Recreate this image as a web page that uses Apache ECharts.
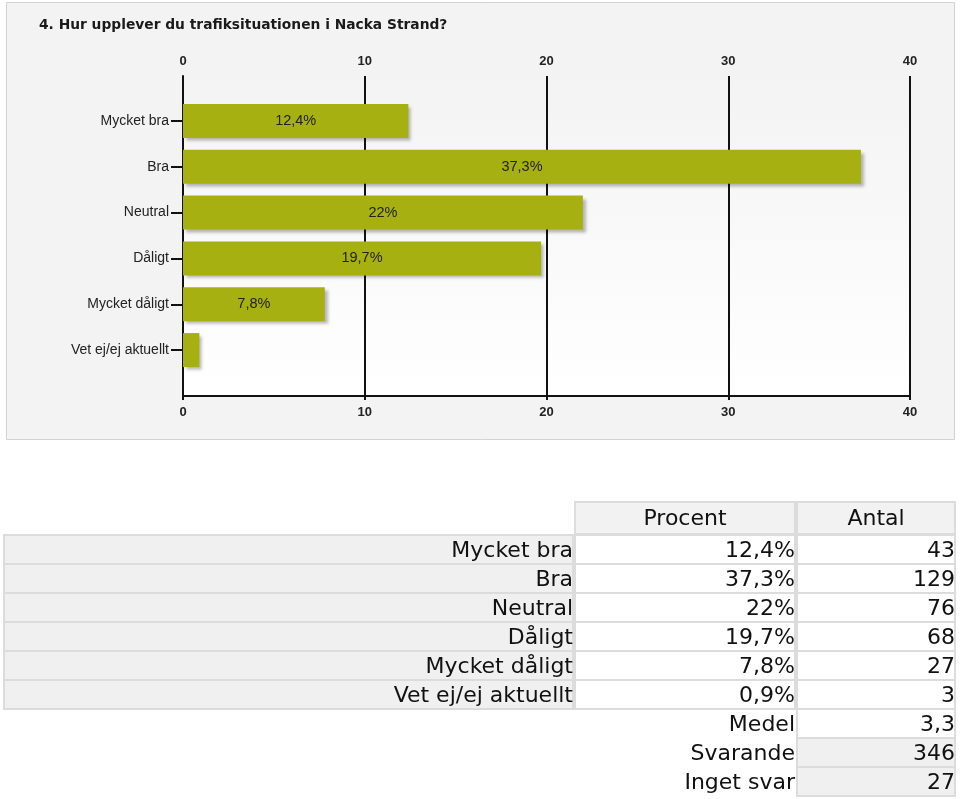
<!DOCTYPE html>
<html>
<head>
<meta charset="utf-8">
<script src="https://cdn.jsdelivr.net/npm/echarts@6/dist/echarts.min.js"></script>
<style>
html,body{margin:0;padding:0;background:#fff;}
#c{width:960px;height:799px;}
</style>
</head>
<body>
<div id="c"></div>
<script>
const title = '4. Hur upplever du trafiksituationen i Nacka Strand?';
const categories = ['Mycket bra', 'Bra', 'Neutral', 'Dåligt', 'Mycket dåligt', 'Vet ej/ej aktuellt'];
const percents = [12.4, 37.3, 22, 19.7, 7.8, 0.9];
const counts = [43, 129, 76, 68, 27, 3];
const xTicks = [0, 10, 20, 30, 40];
const headerLabels = ['Procent', 'Antal'];
const summaryLabels = ['Medel', 'Svarande', 'Inget svar'];
const summaryValues = ['3,3', '346', '27'];

const fmt = v => String(v).replace('.', ',');

const chart = echarts.init(document.getElementById('c'), null, {renderer: 'canvas'});

// ---- table graphics ----
const tableFont = '22px "DejaVu Sans"';
const g = [];
g.push({type: 'rect', z: -10, shape: {x: 6.5, y: 2.5, width: 948, height: 437},
  style: {fill: '#f3f3f3', stroke: '#d2d2d2', lineWidth: 1}});
const colL = [4, 575, 797];
const colR = [573, 795, 955];
const headTop = 502, headH = 32, rowTop = 535, rowH = 29;
const border = '#dcdcdc';
function cell(x1, x2, y, h, fill) {
  g.push({type: 'rect', shape: {x: x1, y: y, width: x2 - x1, height: h},
    style: {fill: fill, stroke: border, lineWidth: 2}});
}
function txt(text, x, y, align) {
  g.push({type: 'text', x: x, y: y, style: {text: text, font: tableFont, fill: '#111',
    textAlign: align, textVerticalAlign: 'middle'}});
}
for (let j = 0; j < 2; j++) {
  cell(colL[j + 1], colR[j + 1], headTop, headH, '#f2f2f2');
  txt(headerLabels[j], (colL[j + 1] + colR[j + 1]) / 2, headTop + headH / 2 + 1, 'center');
}
for (let i = 0; i < categories.length; i++) {
  const y = rowTop + i * rowH;
  cell(colL[0], colR[0], y, rowH, '#f0f0f0');
  cell(colL[1], colR[1], y, rowH, '#ffffff');
  cell(colL[2], colR[2], y, rowH, '#ffffff');
  txt(categories[i], colR[0], y + rowH / 2 + 2, 'right');
  txt(fmt(percents[i]) + '%', colR[1], y + rowH / 2 + 2, 'right');
  txt(String(counts[i]), colR[2], y + rowH / 2 + 2, 'right');
}
for (let k = 0; k < summaryLabels.length; k++) {
  const y = rowTop + (categories.length + k) * rowH;
  cell(colL[2], colR[2], y, rowH, k === 0 ? '#ffffff' : '#f0f0f0');
  txt(summaryLabels[k], colR[1], y + rowH / 2 + 2, 'right');
  txt(summaryValues[k], colR[2], y + rowH / 2 + 2, 'right');
}

const axisFont = {fontFamily: '"Liberation Sans", Arial, sans-serif', fontSize: 13, color: '#222'};

chart.setOption({
  animation: false,
  backgroundColor: '#ffffff',
  title: {
    text: title, left: 34, top: 13,
    textStyle: {fontFamily: '"DejaVu Sans", Verdana, sans-serif', fontWeight: 'bold', fontSize: 13.8, color: '#1a1a1a'}
  },
  grid: [
    {left: 183, right: 50, top: 76, bottom: 403, show: true, borderWidth: 0,
      backgroundColor: new echarts.graphic.LinearGradient(0, 0, 0, 1, [
        {offset: 0, color: '#f3f3f3'}, {offset: 1, color: '#ffffff'}])},
    {left: 183, right: 50, top: 98, bottom: 426}
  ],
  xAxis: [
    {type: 'value', gridIndex: 0, position: 'top', min: 0, max: 40, interval: 10,
      axisLine: {show: true, lineStyle: {color: '#111', width: 2}},
      axisTick: {show: true, length: 4, lineStyle: {color: '#111', width: 2}},
      axisLabel: Object.assign({margin: 8, fontWeight: 'bold'}, axisFont, {fontSize: 13}),
      splitLine: {show: true, lineStyle: {color: '#111', width: 2}}},
    {type: 'value', gridIndex: 0, position: 'bottom', min: 0, max: 40, interval: 10,
      axisLine: {show: true, lineStyle: {color: '#111', width: 2}},
      axisTick: {show: true, length: 4, lineStyle: {color: '#111', width: 2}},
      axisLabel: Object.assign({margin: 10, fontWeight: 'bold'}, axisFont, {fontSize: 13}),
      splitLine: {show: false}},
    {type: 'value', gridIndex: 1, min: 0, max: 40, interval: 10, show: false}
  ],
  yAxis: [
    {type: 'value', gridIndex: 0, min: 0, max: 1, position: 'left',
      axisLine: {show: true, lineStyle: {color: '#111', width: 2}},
      axisTick: {show: false}, axisLabel: {show: false}, splitLine: {show: false}},
    {type: 'category', gridIndex: 1, data: categories, inverse: true,
      axisLine: {show: false},
      axisTick: {show: true, alignWithLabel: true, length: 12, lineStyle: {color: '#111', width: 2}},
      axisLabel: Object.assign({margin: 14}, axisFont, {fontSize: 14})}
  ],
  series: [{
    type: 'bar', xAxisIndex: 2, yAxisIndex: 1, data: percents, barWidth: 34,
    itemStyle: {color: '#a7b011', shadowColor: 'rgba(0,0,0,0.28)', shadowBlur: 3, shadowOffsetX: 3, shadowOffsetY: 3},
    label: {show: true, position: 'inside', color: '#222', fontFamily: '"Liberation Sans", Arial, sans-serif', fontSize: 14.5,
      formatter: p => p.value < 2 ? '' : fmt(p.value) + '%'}
  }],
  graphic: g
});
</script>
</body>
</html>
